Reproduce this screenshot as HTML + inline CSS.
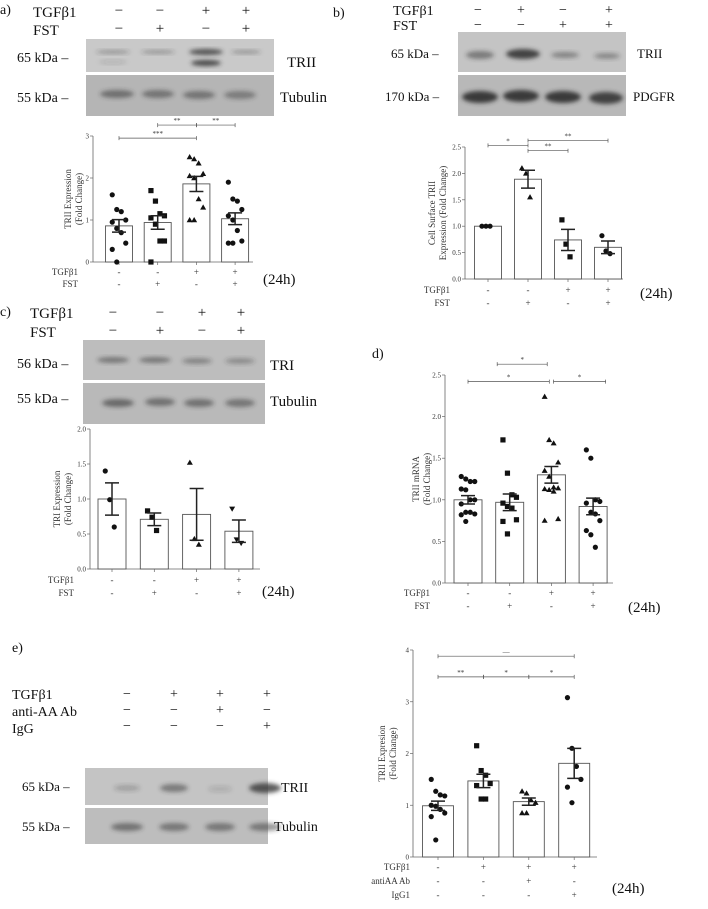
<!DOCTYPE html>
<html><head><meta charset="utf-8"><style>
body{margin:0;background:#fff}
svg{display:block}
.s{font-family:"Liberation Serif",serif;fill:#111}
.t{font-family:"Liberation Serif",serif;fill:#333;font-size:7px}
.l{font-family:"Liberation Serif",serif;fill:#333;font-size:9px}
</style></head><body>
<svg id="fig" width="708" height="909" viewBox="0 0 708 909" xmlns="http://www.w3.org/2000/svg">
<defs><filter id="bl" x="-50%" y="-50%" width="200%" height="200%"><feGaussianBlur stdDeviation="2.2"/></filter></defs>
<g id="static"></g>
</svg>
<script>
// ---- chart data ----
const catsA=["ctrl","FST","TGFb1","TGFb1+FST"];
const meanA=[0.86,0.94,1.86,1.03];
const semA=[0.15,0.16,0.18,0.14];
const ptsA=[[1.6,1.25,1.2,1.0,0.95,0.8,0.7,0.45,0.3,0],[1.7,1.45,1.15,1.1,1.05,0.9,0.5,0.5,0],[2.5,2.45,2.35,2.1,2.05,2.0,1.5,1.3,1.0,1.0],[1.9,1.5,1.45,1.25,1.1,1.0,0.75,0.5,0.45,0.45]];
const ticksA=["0","1","2","3"];
const meanB=[1.0,1.89,0.74,0.6];
const semB=[0,0.17,0.2,0.12];
const ptsB=[[1,1,1],[2.1,2.0,1.55],[1.12,0.66,0.42],[0.82,0.53,0.48]];
const ticksB=["0.0","0.5","1.0","1.5","2.0","2.5"];
const meanC=[1.0,0.71,0.78,0.54];
const semC=[0.23,0.09,0.37,0.16];
const ptsC=[[1.4,0.99,0.6],[0.83,0.74,0.55],[1.52,0.43,0.35],[0.86,0.42,0.37]];
const ticksC=["0.0","0.5","1.0","1.5","2.0"];
const meanD=[1.0,0.97,1.3,0.92];
const semD=[0.05,0.1,0.1,0.1];
const ptsD=[[1.28,1.25,1.22,1.22,1.13,1.12,1.0,1.0,0.95,0.85,0.85,0.83,0.82,0.74],[1.72,1.32,1.06,1.03,0.96,0.92,0.9,0.76,0.74,0.59],[2.24,1.72,1.68,1.45,1.35,1.28,1.15,1.14,1.13,1.12,1.1,0.77,0.75],[1.6,1.5,1.0,0.98,0.96,0.85,0.83,0.75,0.63,0.58,0.43]];
const ticksD=["0.0","0.5","1.0","1.5","2.0","2.5"];
const meanE=[0.99,1.47,1.07,1.81];
const semE=[0.09,0.13,0.07,0.29];
const ptsE=[[1.5,1.27,1.2,1.18,1.0,0.98,0.92,0.85,0.78,0.33],[2.15,1.67,1.58,1.42,1.38,1.12,1.12],[1.27,1.23,1.1,1.05,0.85,0.85],[3.08,2.1,1.75,1.5,1.35,1.05]];
const ticksE=["0","1","2","3","4"];
const sigA=[[0,2,"***",2.95],[1,2,"**",3.26],[2,3,"**",3.26]];
const sigB=[[0,1,"*",2.53],[1,3,"**",2.62],[1,2,"**",2.43]];
const sigD=[[0.7,1.9,"*",2.63],[0,1.95,"*",2.42],[2.05,3.3,"*",2.42]];
const sigE=[[0,3,"ns",3.88],[0,1,"**",3.48],[1,2,"*",3.48],[2,3,"*",3.48]];

const NS="http://www.w3.org/2000/svg";
const root=document.getElementById('static');
function mk(tag,attrs,parent,text){const e=document.createElementNS(NS,tag);for(const k in attrs)e.setAttribute(k,attrs[k]);if(text!==undefined)e.textContent=text;(parent||root).appendChild(e);return e;}
function txt(x,y,s,size,cls,anchor,name){const e=mk('text',{x:x,y:y,class:cls||'s','font-size':size,'text-anchor':anchor||'start'},root,s);

return e;}

function marker(g,shape,x,y){let e;
 if(shape==='c')e=mk('circle',{cx:x,cy:y,r:2.6,fill:'#111'},g);
 else if(shape==='s')e=mk('rect',{x:x-2.6,y:y-2.6,width:5.2,height:5.2,fill:'#111'},g);
 else if(shape==='t')e=mk('path',{d:`M${x} ${y-3}L${x+3} ${y+2.2}L${x-3} ${y+2.2}Z`,fill:'#111'},g);
 else e=mk('path',{d:`M${x} ${y+3}L${x+3} ${y-2.2}L${x-3} ${y-2.2}Z`,fill:'#111'},g);
 
 }

function chart(o){
 const g=mk('g',{});
 
 
 const yMax=o.ticks.length-1, step=o.step;
 const ys=v=>o.y0-(v/(yMax*step))*(o.y0-o.yTop);
 const xs=i=>o.cx0+i*o.dx;
 const ax=mk('line',{x1:o.xA,y1:o.y0,x2:o.xA,y2:o.yTop,stroke:'#666','stroke-width':0.8},g);
 
 const bx=mk('line',{x1:o.xA,y1:o.y0,x2:o.xB,y2:o.y0,stroke:'#666','stroke-width':0.8},g);
 
 o.ticks.forEach((t,i)=>{const y=ys(i*step);mk('line',{x1:o.xA-3,y1:y,x2:o.xA,y2:y,stroke:'#666','stroke-width':0.7},g);
  const e=mk('text',{x:o.xA-4,y:y+2.5,class:'t','text-anchor':'end'},g,t);});
 const tt=mk('text',{class:'l','text-anchor':'middle',transform:`translate(${o.xA-o.tOff},${(o.y0+o.yTop)/2}) rotate(-90)`},g);
 
 o.title.forEach((s,i)=>mk('tspan',{x:0,dy:i?11:0},tt,s));
 o.means.forEach((m,i)=>{const x=xs(i);const b=mk('rect',{x:x-o.bw/2,y:ys(m),width:o.bw,height:o.y0-ys(m),fill:'#fff',stroke:'#555','stroke-width':0.9},g);
  
  mk('line',{x1:x,y1:o.y0,x2:x,y2:o.y0+3,stroke:'#666','stroke-width':0.7},g);
  o.pts[i].forEach((v,j)=>{const jx=((j%4)-1.5)*4.5*(o.jit||1);marker(g,o.shapes[i],x+jx,ys(v));});
  const s=o.sem[i];if(s>0){const eb=mk('path',{d:`M${x} ${ys(m+s)}V${ys(m-s)}M${x-7} ${ys(m+s)}H${x+7}M${x-7} ${ys(m-s)}H${x+7}`,stroke:'#222','stroke-width':1.5,fill:'none'},g);
  }
 });
 (o.sig||[]).forEach(s=>{const y=ys(s[3]),x1=xs(s[0]),x2=xs(s[1]);
  const p=mk('path',{d:`M${x1} ${y}H${x2}M${x1} ${y-2}V${y+2}M${x2} ${y-2}V${y+2}`,stroke:'#555','stroke-width':0.7,fill:'none'},g);
  
  const e=mk('text',{x:(x1+x2)/2,y:y-2,class:'t','text-anchor':'middle','font-size':6,fill:s[2]==='ns'?'#ccc':'#333'},g,s[2]==='ns'?'—':s[2]);});
 o.rows.forEach((r,ri)=>{const y=o.y0+o.rowY+ri*o.rowH;
  const e=mk('text',{x:o.rowX,y:y,class:'l','text-anchor':'end'},g,r[0]);
  r[1].forEach((c,i)=>{const t=mk('text',{x:xs(i),y:y,class:'l','text-anchor':'middle'},g,c);});});
 const h=mk('text',{x:o.hx,y:o.hy,class:'s','font-size':15},g,'(24h)');
}
const rowsTF=[["TGFβ1",["-","-","+","+"]],["FST",["-","+","-","+"]]];
chart({name:'chart-a',means:meanA,sem:semA,pts:ptsA,ticks:ticksA,step:1,y0:262,yTop:136,xA:93,xB:253,cx0:119,dx:38.7,bw:27,title:['TRII Expression','(Fold  Change)'],tOff:22,shapes:['c','s','t','c'],sig:sigA,rows:rowsTF,rowX:78,rowY:13,rowH:12,hx:263,hy:284});
chart({name:'chart-b',means:meanB,sem:semB,pts:ptsB,ticks:ticksB,step:0.5,y0:279,yTop:147,xA:465,xB:623,cx0:488,dx:40,bw:27,title:['Cell Surface TRII','Expression (Fold  Change)'],tOff:30,shapes:['c','t','s','c'],sig:sigB,rows:rowsTF,rowX:450,rowY:14,rowH:13,hx:640,hy:298,jit:0.9});
chart({name:'chart-c',means:meanC,sem:semC,pts:ptsC,ticks:ticksC,step:0.5,y0:569,yTop:429,xA:90,xB:260,cx0:112,dx:42.3,bw:28,title:['TRI Expression','(Fold  Change)'],tOff:30,shapes:['c','s','t','d'],sig:[],rows:rowsTF,rowX:74,rowY:14,rowH:13,hx:262,hy:596});
chart({name:'chart-d',means:meanD,sem:semD,pts:ptsD,ticks:ticksD,step:0.5,y0:583,yTop:375,xA:445,xB:613,cx0:468,dx:41.7,bw:28,title:['TRII mRNA','(Fold  Change)'],tOff:26,shapes:['c','s','t','c'],sig:sigD,rows:rowsTF,rowX:430,rowY:13,rowH:13,hx:628,hy:612});
chart({name:'chart-e',means:meanE,sem:semE,pts:ptsE,ticks:ticksE,step:1,y0:857,yTop:650,xA:413,xB:597,cx0:438,dx:45.4,bw:31,title:['TRII Expresion','(Fold  Change)'],tOff:28,shapes:['c','s','t','c'],sig:sigE,rows:[["TGFβ1",["-","+","+","+"]],["antiAA Ab",["-","-","+","-"]],["IgG1",["-","-","-","+"]]],rowX:410,rowY:13,rowH:14,hx:612,hy:893});

// ---- blots ----
function blot(name,x,y,w,h,bg,bands){const g=mk('g',{});
 mk('rect',{x:x,y:y,width:w,height:h,fill:bg},g);
 bands.forEach(b=>{const e=mk('ellipse',{cx:b[0],cy:b[1],rx:b[2],ry:b[3],fill:'#333','fill-opacity':b[4],filter:'url(#bl)'},g);});}
blot('blot-a-trii',86,39,188,33,'#c9c9c9',[[113,52,17,2,0.35],[158,52,17,2,0.35],[206,52,17,3,0.8],[206,63,15,3,0.85],[246,52,15,2,0.35],[113,62,14,2,0.15]]);
blot('blot-a-tubulin',86,75,188,41,'#b5b5b5',[[117,94,17,4,0.55],[158,94,16,4,0.5],[199,95,16,4,0.5],[240,95,16,4,0.45]]);
blot('blot-b-trii',458,32,168,40,'#c4c4c4',[[480,55,14,4,0.5],[523,54,17,5,0.9],[565,55,14,3,0.45],[607,56,13,3,0.4]]);
blot('blot-b-pdgfr',458,75,168,41,'#b8b8b8',[[480,97,18,6,0.95],[521,96,18,6,0.95],[563,97,18,6,0.95],[606,98,17,6,0.9]]);
blot('blot-c-tri',83,340,182,40,'#bdbdbd',[[113,360,16,3,0.5],[155,360,16,3,0.5],[197,361,15,3,0.4],[240,361,15,3,0.35]]);
blot('blot-c-tubulin',83,383,182,41,'#b9b9b9',[[118,403,16,4,0.6],[160,402,15,4,0.55],[199,403,15,4,0.55],[240,403,15,4,0.5]]);
blot('blot-e-trii',85,768,183,37,'#c4c4c4',[[127,788,13,3,0.25],[174,788,14,4,0.5],[220,789,12,3,0.15],[265,788,16,5,0.8]]);
blot('blot-e-tubulin',85,808,183,36,'#bdbdbd',[[127,827,16,4,0.55],[174,827,15,4,0.5],[220,827,15,4,0.5],[265,827,16,4,0.5]]);

// ---- blot labels & headers ----
txt(0,14,'a)',14,'s','start','panel-a-label');
txt(33,17,'TGFβ1',15,'s','start','treatment-label');txt(33,35,'FST',15,'s','start','treatment-label');
[['−','−','+','+'],['−','+','−','+']].forEach((r,ri)=>[119,160,206,246].forEach((x,i)=>txt(x,15+ri*18,r[i],15,'s','middle','treatment-sign')));
txt(17,62,'65 kDa –',14,'s','start','mw-label');txt(17,102,'55 kDa –',14,'s','start','mw-label');
txt(287,67,'TRII',15,'s','start','blot-label');txt(280,102,'Tubulin',15,'s','start','blot-label');

txt(333,17,'b)',14,'s','start','panel-b-label');
txt(393,15,'TGFβ1',14,'s','start','treatment-label');txt(393,30,'FST',14,'s','start','treatment-label');
[['−','+','−','+'],['−','−','+','+']].forEach((r,ri)=>[478,521,563,609].forEach((x,i)=>txt(x,14+ri*15,r[i],14,'s','middle','treatment-sign')));
txt(391,58,'65 kDa –',13,'s','start','mw-label');txt(385,101,'170 kDa –',13,'s','start','mw-label');
txt(637,58,'TRII',13,'s','start','blot-label');txt(633,101,'PDGFR',13,'s','start','blot-label');

txt(0,316,'c)',14,'s','start','panel-c-label');
txt(30,318,'TGFβ1',15,'s','start','treatment-label');txt(30,337,'FST',15,'s','start','treatment-label');
[['−','−','+','+'],['−','+','−','+']].forEach((r,ri)=>[113,160,202,241].forEach((x,i)=>txt(x,317+ri*18,r[i],15,'s','middle','treatment-sign')));
txt(17,368,'56 kDa –',14,'s','start','mw-label');txt(17,403,'55 kDa –',14,'s','start','mw-label');
txt(270,370,'TRI',15,'s','start','blot-label');txt(270,406,'Tubulin',15,'s','start','blot-label');

txt(372,358,'d)',14,'s','start','panel-d-label');

txt(12,652,'e)',14,'s','start','panel-e-label');
txt(12,699,'TGFβ1',14,'s','start','treatment-label');txt(12,716,'anti-AA Ab',14,'s','start','treatment-label');txt(12,733,'IgG',14,'s','start','treatment-label');
[['−','+','+','+'],['−','−','+','−'],['−','−','−','+']].forEach((r,ri)=>[127,174,220,267].forEach((x,i)=>txt(x,698+ri*16,r[i],14,'s','middle','treatment-sign')));
txt(22,791,'65 kDa –',13,'s','start','mw-label');txt(22,831,'55 kDa –',13,'s','start','mw-label');
txt(281,792,'TRII',14,'s','start','blot-label');txt(274,831,'Tubulin',14,'s','start','blot-label');
</script>
</body></html>
